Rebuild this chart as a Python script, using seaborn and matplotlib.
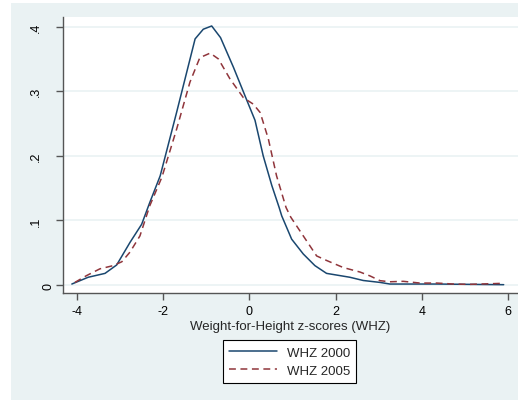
import matplotlib
matplotlib.use("Agg")
import matplotlib.pyplot as plt
import seaborn as sns
import pandas as pd
from matplotlib.patches import Rectangle

# ---- data ----
whz2000_x = [-4.12, -3.74, -3.35, -3.08, -2.77, -2.50, -2.31, -2.07, -1.69, -1.26,
             -1.07, -0.875, -0.67, -0.37, -0.06, 0.13, 0.32, 0.52, 0.69, 0.75, 0.98,
             1.25, 1.52, 1.79, 2.33, 2.64, 3.03, 3.26, 4.35, 5.1, 5.9]
whz2000_y = [0.0015, 0.012, 0.018, 0.031, 0.066, 0.094, 0.128, 0.169, 0.267, 0.381,
             0.396, 0.401, 0.383, 0.337, 0.286, 0.255, 0.200, 0.154, 0.120, 0.107, 0.071,
             0.048, 0.030, 0.018, 0.012, 0.007, 0.004, 0.0015, 0.0015, 0.001, 0.0005]

whz2005_x = [-4.05, -3.78, -3.47, -3.16, -2.96, -2.77, -2.54, -2.31, -2.03, -1.69,
             -1.38, -1.15, -0.91, -0.72, -0.45, -0.14, 0.09, 0.25, 0.44, 0.63, 0.85,
             0.96, 1.25, 1.56, 1.79, 2.18, 2.57, 2.80, 3.03, 3.26, 3.57, 3.96, 4.35,
             4.73, 5.1, 5.89]
whz2005_y = [0.004, 0.0145, 0.025, 0.030, 0.036, 0.051, 0.076, 0.123, 0.167, 0.241,
             0.314, 0.352, 0.359, 0.350, 0.319, 0.290, 0.280, 0.267, 0.226, 0.169, 0.120,
             0.105, 0.076, 0.045, 0.038, 0.027, 0.020, 0.014, 0.0067, 0.005, 0.0057, 0.003,
             0.003, 0.0015, 0.001, 0.0026]

series_labels = ["WHZ 2000", "WHZ 2005"]
x_ticks = [-4, -2, 0, 2, 4, 6]
x_tick_labels = ["-4", "-2", "0", "2", "4", "6"]
y_ticks = [0, 0.1, 0.2, 0.3, 0.4]
y_tick_labels = ["0", ".1", ".2", ".3", ".4"]
x_label = "Weight-for-Height z-scores (WHZ)"

# ---- styling ----
sns.set_theme(style="white")
plt.rcParams['font.family'] = ['Liberation Sans', 'DejaVu Sans']

W, H = 518, 402
fig = plt.figure(figsize=(W / 100, H / 100), dpi=100)
fig.patch.set_facecolor("white")
bg = "#EAF2F3"
fig.patches.append(Rectangle((11 / W, 1 / H), 507 / W, 397 / H, transform=fig.transFigure,
                             facecolor=bg, edgecolor="none", zorder=-10))

ax = fig.add_axes([63 / W, (H - 294) / H, (518 - 63) / W, (294 - 18) / H])
ax.set_zorder(1)
ax.set_facecolor("white")

df1 = pd.DataFrame({"x": whz2000_x, "y": whz2000_y})
df2 = pd.DataFrame({"x": whz2005_x, "y": whz2005_y})
sns.lineplot(data=df1, x="x", y="y", ax=ax, color="#1A476F", linewidth=1.1,
             label=series_labels[0], zorder=3)
sns.lineplot(data=df2, x="x", y="y", ax=ax, color="#90353B", linewidth=1.1,
             linestyle=(0, (4.5, 3)), label=series_labels[1], zorder=3)

ax.set_xlim(-4.325, 6.232)
ax.set_ylim(-0.01238, 0.4149)
ax.set_xticks(x_ticks)
ax.set_xticklabels(x_tick_labels)
ax.set_yticks(y_ticks)
ax.yaxis.grid(True, color=bg, linewidth=1.2)
ax.xaxis.grid(False)
for s in ["top", "right"]:
    ax.spines[s].set_visible(False)
for s in ["left", "bottom"]:
    ax.spines[s].set_color("#555555")
    ax.spines[s].set_linewidth(1.0)
ax.tick_params(axis="both", which="major", direction="out", length=5, width=1,
               color="#555555", labelsize=9, labelcolor="black",
               left=True, bottom=True)
ax.tick_params(axis="x", pad=4)
ax.tick_params(axis="y", pad=10)
ax.set_yticklabels(y_tick_labels, rotation=90, va="center")

ax.set_xlabel(x_label, fontsize=9.5, labelpad=2)
ax.set_ylabel("")

ax.get_legend().remove()
handles, labels = ax.get_legend_handles_labels()
leg = fig.legend(handles, labels, loc="center",
                 bbox_to_anchor=(289.5 / W, (H - 362.5) / H),
                 frameon=True, fancybox=False, edgecolor="black", facecolor="white",
                 fontsize=9.5, handlelength=3.6, handletextpad=0.75, borderpad=0.5,
                 labelspacing=0.45, framealpha=1)
leg.get_frame().set_linewidth(0.8)

# Stata places the "0" label closer to the axis than the dotted labels
fig.canvas.draw()
tick0 = ax.yaxis.get_major_ticks()[0]
tick0.label1.set_horizontalalignment("left")

fig.savefig("out.png", dpi=100, facecolor="white")
